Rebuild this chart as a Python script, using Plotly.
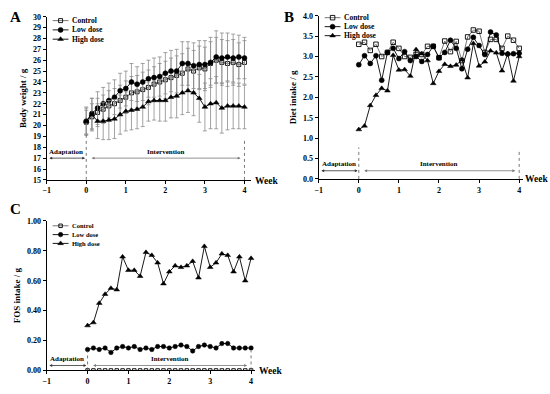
import plotly.graph_objects as go

# ---------------- data ----------------
days = list(range(29))
weeks = [d / 7 for d in days]
week_ticks = [-1, 0, 1, 2, 3, 4]
series_names = ["Control", "Low dose", "High dose"]

bw_control = [20.3, 20.8, 21.2, 21.5, 21.8, 22.0, 22.3, 22.6, 23.0, 23.1, 23.3, 23.5, 23.8, 24.0,
              24.2, 24.4, 24.6, 24.8, 25.2, 25.0, 25.3, 25.2, 25.7, 26.0, 25.8, 25.7, 25.8, 25.6, 25.8]
bw_low = [20.4, 21.1, 21.6, 22.0, 22.3, 22.6, 23.2, 23.4, 24.0, 23.8, 24.0, 24.3, 24.4, 24.5,
          24.8, 25.0, 25.0, 25.7, 25.7, 25.5, 25.6, 25.6, 25.8, 26.3, 26.2, 26.3, 26.2, 26.3, 26.2]
bw_high = [20.4, 21.0, 20.4, 20.4, 20.5, 20.6, 21.0, 21.3, 21.4, 21.5, 21.7, 22.2, 22.3, 22.3,
           22.3, 22.6, 22.7, 23.0, 23.2, 23.0, 22.5, 21.7, 22.0, 22.1, 21.6, 21.8, 21.8, 21.8, 21.7]
bw_control_sd = [1.1, 1.2, 1.3, 1.3, 1.4, 1.4, 1.4, 1.5, 1.5, 1.5, 1.6, 1.6, 1.6, 1.7, 1.7,
                 1.8, 1.8, 1.8, 1.9, 1.9, 2.0, 2.0, 2.0, 2.1, 2.1, 2.1, 2.1, 2.0, 2.0]
bw_low_sd = [1.2, 1.4, 1.5, 1.5, 1.6, 1.6, 1.6, 1.6, 1.7, 1.6, 1.7, 1.7, 1.8, 1.8, 1.9,
             1.9, 2.0, 2.0, 2.0, 2.1, 2.2, 2.2, 2.3, 2.4, 2.3, 2.2, 2.2, 2.0, 1.9]
bw_high_sd = [1.3, 1.5, 1.6, 1.7, 1.8, 1.8, 1.8, 1.8, 1.8, 1.8, 1.8, 1.8, 1.8, 1.9, 1.9,
              1.9, 2.0, 2.0, 2.0, 2.1, 2.2, 2.2, 2.3, 2.4, 2.3, 2.2, 2.1, 2.1, 2.0]

diet_control = [3.30, 3.35, 3.15, 3.30, 3.00, 3.10, 3.35, 3.20, 3.00, 2.98, 3.05, 3.05, 3.25, 3.25,
                2.97, 3.38, 3.12, 3.37, 2.90, 3.48, 3.65, 3.62, 3.10, 3.42, 3.42, 3.20, 3.50, 3.40, 3.20]
diet_low = [2.80, 3.02, 2.83, 3.02, 2.42, 3.10, 3.20, 2.95, 3.12, 2.90, 3.00, 2.88, 3.05, 3.25,
            2.97, 3.10, 3.40, 3.20, 2.70, 3.18, 3.47, 3.27, 3.05, 3.60, 3.53, 3.08, 3.06, 3.07, 3.08]
diet_high = [1.21, 1.30, 1.80, 2.05, 2.22, 2.16, 3.03, 2.67, 2.68, 2.52, 3.17, 3.07, 2.90, 2.34,
             2.64, 2.81, 2.76, 2.79, 2.92, 2.48, 3.32, 2.77, 2.87, 3.14, 3.09, 2.65, 3.07, 2.40, 3.00]

fos_control = [0.0] * 29
fos_low = [0.14, 0.15, 0.14, 0.15, 0.12, 0.15, 0.16, 0.15, 0.16, 0.14, 0.15, 0.14, 0.16, 0.16,
           0.15, 0.16, 0.17, 0.16, 0.13, 0.16, 0.17, 0.16, 0.15, 0.18, 0.18, 0.15, 0.15, 0.15, 0.15]
fos_high = [0.30, 0.32, 0.45, 0.51, 0.55, 0.54, 0.76, 0.67, 0.67, 0.63, 0.79, 0.77, 0.72, 0.58,
            0.66, 0.70, 0.69, 0.70, 0.73, 0.62, 0.83, 0.69, 0.72, 0.78, 0.77, 0.66, 0.76, 0.60, 0.75]

phase_labels = ["Adaptation", "Intervention"]
phase_bounds = [-1, 0, 4]

# ---------------- styling ----------------
W, H = 550, 394
FONT = "Liberation Serif, Times New Roman, serif"
symbols = ["square-open", "circle", "triangle-up"]
line_colors = ["#666666", "black", "black"]
marker_lw = [0.9, 0.5, 0.5]


def px_x(p):
    return p / W


def px_y(p):
    return 1 - p / H


fig = go.Figure()

panels = [
    dict(x="x", y="y", data=[bw_control, bw_low, bw_high],
         err=[bw_control_sd, bw_low_sd, bw_high_sd], msize=[4, 5, 5],
         legend_px=(49, 17, 9.5), legend_font=7.5),
    dict(x="x2", y="y2", data=[diet_control, diet_low, diet_high],
         err=None, msize=[4.5, 5, 5], legend_px=(323, 14, 9.2), legend_font=7.5),
    dict(x="x3", y="y3", data=[fos_control, fos_low, fos_high],
         err=None, msize=[3.5, 4.5, 5], legend_px=(49, 227, 9), legend_font=6.5),
]

for p in panels:
    for i, name in enumerate(series_names):
        kw = {}
        if p["err"] is not None:
            kw["error_y"] = dict(type="data", array=p["err"][i], visible=True,
                                 color="#8c8c8c", thickness=0.8, width=2)
        fig.add_trace(go.Scatter(
            x=weeks, y=p["data"][i], name=name, mode="lines+markers", showlegend=False,
            xaxis=p["x"], yaxis=p["y"],
            line=dict(color=line_colors[i], width=0.9),
            marker=dict(symbol=symbols[i], size=p["msize"][i], color="black",
                        line=dict(color="black", width=marker_lw[i])),
            **kw))

# manual legends on a transparent pixel overlay axis
ann = []
for p in panels:
    lx, ly, gap = p["legend_px"]
    for i, name in enumerate(series_names):
        yy = ly + i * gap
        fig.add_trace(go.Scatter(
            x=[lx, lx + 8, lx + 16], y=[yy, yy, yy], mode="lines", showlegend=False,
            xaxis="x4", yaxis="y4", hoverinfo="skip",
            line=dict(color=line_colors[i], width=0.9)))
        fig.add_trace(go.Scatter(
            x=[lx + 8], y=[yy], mode="markers", showlegend=False,
            xaxis="x4", yaxis="y4", hoverinfo="skip",
            marker=dict(symbol=symbols[i], size=p["msize"][i], color="black",
                        line=dict(color="black", width=marker_lw[i]))))
        ann.append(dict(text=name, x=px_x(lx + 17), y=px_y(yy), xref="paper", yref="paper",
                        showarrow=False, xanchor="left", yanchor="middle",
                        font=dict(family=FONT, size=p["legend_font"], weight="bold")))

axis_common = dict(showline=True, linecolor="black", linewidth=1, ticks="outside",
                   ticklen=3, tickwidth=1, tickcolor="black", showgrid=False, zeroline=False,
                   tickfont=dict(family=FONT, size=8, color="black", weight="bold"))

fig.update_layout(
    width=W, height=H, margin=dict(l=0, r=0, t=0, b=0),
    paper_bgcolor="white", plot_bgcolor="rgba(0,0,0,0)", showlegend=False,
    font=dict(family=FONT, color="black"),
    xaxis=dict(domain=[px_x(43), px_x(249)], range=[-1, 4.17], tickvals=week_ticks,
               anchor="y", **axis_common),
    yaxis=dict(domain=[px_y(180), px_y(13)], range=[15, 30], dtick=1, anchor="x",
               title=dict(text="Body weight / g", standoff=4,
                          font=dict(family=FONT, size=9, weight="bold")), **axis_common),
    xaxis2=dict(domain=[px_x(317), px_x(523)], range=[-1, 4.1], tickvals=week_ticks,
                anchor="y2", **axis_common),
    yaxis2=dict(domain=[px_y(179), px_y(12)], range=[0, 4], dtick=0.5, tickformat=".1f",
                anchor="x2",
                title=dict(text="Diet intake / g", standoff=4,
                           font=dict(family=FONT, size=9, weight="bold")), **axis_common),
    xaxis3=dict(domain=[px_x(43), px_x(253)], range=[-1, 4.1], tickvals=week_ticks,
                anchor="y3", **axis_common),
    yaxis3=dict(domain=[px_y(375), px_y(222)], range=[0, 1], dtick=0.2, tickformat=".2f",
                anchor="x3",
                title=dict(text="FOS intake / g", standoff=4,
                           font=dict(family=FONT, size=9, weight="bold")), **axis_common),
    xaxis4=dict(domain=[0, 1], range=[0, W], visible=False, fixedrange=True, anchor="y4"),
    yaxis4=dict(domain=[0, 1], range=[H, 0], visible=False, fixedrange=True, anchor="x4"),
)

shapes = []
# panel letters
for txt, x, y in [("A", 12, 13), ("B", 287, 13), ("C", 12, 210)]:
    ann.append(dict(text=txt, x=px_x(x), y=px_y(y), xref="paper", yref="paper", showarrow=False,
                    font=dict(family=FONT, size=15, weight="bold"), xanchor="center", yanchor="middle"))
# Week labels
for x, y in [(251, 181), (523, 179), (255, 376)]:
    ann.append(dict(text="Week", x=px_x(x), y=px_y(y), xref="paper", yref="paper", showarrow=False,
                    font=dict(family=FONT, size=9.5, weight="bold"), xanchor="left", yanchor="middle"))

# phase arrows / labels / dotted boundaries
phase_cfg = [
    ("x", "y", 17.0, 17.55, 19.3, 18.7),
    ("x2", "y2", 0.2, 0.37, 0.77, 0.72),
    ("x3", "y3", 0.033, 0.075, 0.13, 0.13),
]
for xr, yr, ya, yt, top0, top4 in phase_cfg:
    segs = [(phase_bounds[0] + 0.03, phase_bounds[1] - 0.03), (phase_bounds[1] + 0.1, phase_bounds[2] - 0.1)]
    for (a, b), lab in zip(segs, phase_labels):
        ann.append(dict(x=b, y=ya, ax=a, ay=ya, xref=xr, yref=yr, axref=xr, ayref=yr, text="",
                        showarrow=True, arrowhead=2, arrowside="end+start", arrowsize=0.7,
                        arrowwidth=0.8, arrowcolor="#333333" if lab == "Adaptation" else "#777777"))
        ann.append(dict(x=(phase_bounds[0] + phase_bounds[1]) / 2 if lab == "Adaptation"
                        else (phase_bounds[1] + phase_bounds[2]) / 2,
                        y=yt, xref=xr, yref=yr, text=lab, showarrow=False,
                        font=dict(family=FONT, size=7, weight="bold"), yanchor="middle"))
    y0 = 15 if yr == "y" else 0
    for xb, top in [(phase_bounds[1], top0), (phase_bounds[2], top4)]:
        shapes.append(dict(type="line", xref=xr, yref=yr, x0=xb, x1=xb, y0=y0, y1=top,
                           line=dict(color="#555555", width=0.8, dash="dot")))

fig.update_layout(annotations=ann, shapes=shapes)
fig.write_html("out.html", config={"displayModeBar": False},
               post_script="document.body.style.margin='0px';")
